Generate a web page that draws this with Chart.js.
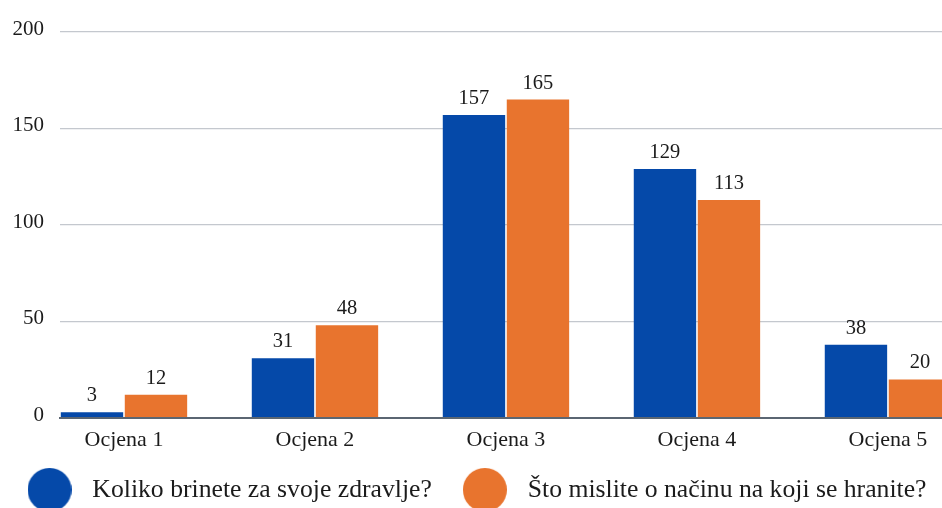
<!DOCTYPE html>
<html>
<head>
<meta charset="utf-8">
<script src="https://cdn.jsdelivr.net/npm/chart.js@4/dist/chart.umd.min.js"></script>
<style>
  html, body { margin: 0; padding: 0; background: #ffffff; }
  #wrap { width: 942px; height: 508px; position: relative; }
</style>
</head>
<body>
<div id="wrap"><canvas id="c"></canvas></div>
<script>
const categories = ["Ocjena 1", "Ocjena 2", "Ocjena 3", "Ocjena 4", "Ocjena 5"];
const seriesNames = ["Koliko brinete za svoje zdravlje?", "Što mislite o načinu na koji se hranite?"];
const healthValues = [3, 31, 157, 129, 38];
const dietValues = [12, 48, 165, 113, 20];
const yTicks = [0, 50, 100, 150, 200];
const seriesColors = ["#0549a9", "#e8742e"];

const FONT = "'Liberation Serif', 'Times New Roman', serif";
const TEXT = "#1b1b1b";

function circleStyle(color, d) {
  const c = document.createElement('canvas');
  c.width = d; c.height = d;
  const g = c.getContext('2d');
  g.fillStyle = color;
  g.beginPath();
  g.arc(d / 2, d / 2, d / 2, 0, Math.PI * 2);
  g.fill();
  return c;
}

const valueLabels = {
  id: 'valueLabels',
  afterDatasetsDraw(chart) {
    const ctx = chart.ctx;
    ctx.save();
    ctx.font = "20.5px " + FONT;
    ctx.fillStyle = TEXT;
    ctx.textAlign = 'center';
    ctx.textBaseline = 'alphabetic';
    chart.data.datasets.forEach((ds, di) => {
      const meta = chart.getDatasetMeta(di);
      meta.data.forEach((el, i) => {
        ctx.fillText(String(ds.data[i].y), el.x, el.y - 11);
      });
    });
    ctx.restore();
  }
};

const mkData = vals => vals.map((v, i) => ({ x: i + 1, y: v }));

new Chart(document.getElementById('c'), {
  type: 'bar',
  data: {
    datasets: [
      { label: seriesNames[0], data: mkData(healthValues), backgroundColor: seriesColors[0],
        pointStyle: circleStyle(seriesColors[0], 44) },
      { label: seriesNames[1], data: mkData(dietValues), backgroundColor: seriesColors[1],
        pointStyle: circleStyle(seriesColors[1], 44) }
    ]
  },
  options: {
    responsive: true,
    maintainAspectRatio: false,
    animation: false,
    layout: { padding: { top: 32, right: -9, left: -5, bottom: -4.7 } },
    datasets: { bar: { categoryPercentage: 0.67, barPercentage: 0.975 } },
    scales: {
      x: {
        type: 'linear',
        offset: false,
        min: 0.665,
        max: 5.283,
        grid: { display: false, drawTicks: false, offset: false },
        border: { display: true, color: '#5b6672', width: 2 },
        afterBuildTicks: s => { s.ticks = categories.map((c, i) => ({ value: i + 1 })); },
        afterFit: s => { s.height = 36; },
        ticks: {
          padding: 9,
          autoSkip: false,
          maxRotation: 0,
          color: TEXT,
          font: { family: FONT, size: 22 },
          callback: v => categories[Math.round(v) - 1]
        }
      },
      y: {
        min: 0,
        max: 200,
        afterBuildTicks: s => { s.ticks = yTicks.map(v => ({ value: v })); },
        afterFit: s => { s.width = 65; },
        grid: {
          drawTicks: false,
          color: ctx => ctx.tick && ctx.tick.value === 0 ? '#5b6672' : '#c4c8ce',
          lineWidth: ctx => ctx.tick && ctx.tick.value === 0 ? 2 : 1.3
        },
        border: { display: false },
        ticks: {
          padding: 16,
          labelOffset: -3,
          color: TEXT,
          font: { family: FONT, size: 21 }
        }
      }
    },
    plugins: {
      legend: {
        position: 'bottom',
        labels: {
          usePointStyle: true,
          pointStyleWidth: 60,
          padding: 23,
          color: TEXT,
          font: { family: FONT, size: 25.7 }
        }
      },
      tooltip: { enabled: false }
    }
  },
  plugins: [valueLabels]
});
</script>
</body>
</html>
